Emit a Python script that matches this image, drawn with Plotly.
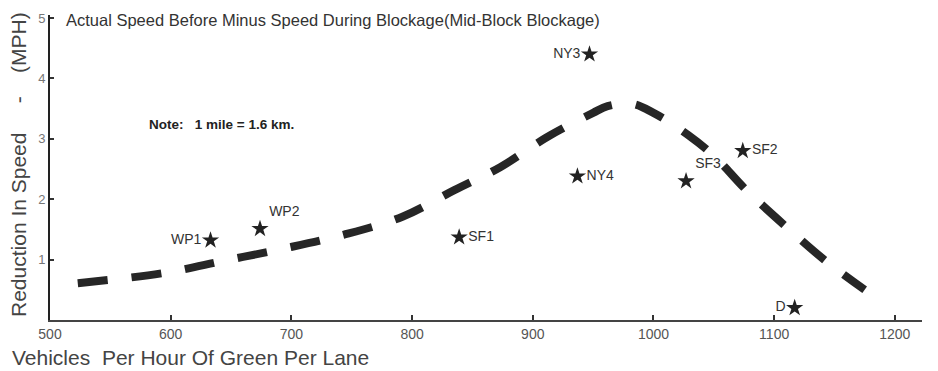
import plotly.graph_objects as go

# Site observations
site_names = ["WP1", "WP2", "SF1", "NY4", "NY3", "SF3", "SF2", "D"]
site_volume = [633, 674, 839, 937, 947, 1027, 1074, 1117]
site_reduction = [1.32, 1.51, 1.37, 2.38, 4.40, 2.30, 2.80, 0.20]
site_label_pos = ["middle left", "top right", "middle right", "middle right",
                  "middle left", "top right", "middle right", "middle left"]

# Fitted curve
curve_volume = [523, 595, 644, 693, 743, 792, 835, 873, 912, 950, 962, 982,
                1000, 1029, 1051, 1077, 1113, 1142, 1175]
curve_reduction = [0.61, 0.78, 0.98, 1.18, 1.41, 1.71, 2.15, 2.53, 3.03, 3.43,
                   3.54, 3.58, 3.43, 3.06, 2.70, 2.15, 1.49, 0.99, 0.50]

x_ticks = [500, 600, 700, 800, 900, 1000, 1100, 1200]
y_ticks = [1, 2, 3, 4, 5]

FONT = "Liberation Sans"
NB = "\u00a0"

fig = go.Figure()
fig.add_trace(go.Scatter(
    x=curve_volume, y=curve_reduction, mode="lines",
    line=dict(color="#262626", width=8, dash="30px,24px", shape="spline"),
    hoverinfo="skip", showlegend=False))
fig.add_trace(go.Scatter(
    x=site_volume, y=site_reduction, mode="markers+text",
    marker=dict(symbol="star", size=13, color="#222222"),
    text=site_names, textposition=site_label_pos,
    textfont=dict(family=FONT, size=14, color="#333333"),
    showlegend=False))

fig.update_layout(
    width=938, height=371,
    margin=dict(l=50, r=16, t=15, b=51),
    paper_bgcolor="white", plot_bgcolor="white",
    font=dict(family=FONT, color="#333333"),
    xaxis=dict(range=[500, 1222.5], tickvals=x_ticks, showgrid=False, zeroline=False,
               showline=True, linecolor="#444444", linewidth=2,
               ticks="inside", ticklen=5, tickwidth=2, tickcolor="#333333",
               tickfont=dict(family=FONT, size=14, color="#555555")),
    yaxis=dict(range=[0, 5.05], tickvals=y_ticks, showgrid=False, zeroline=False,
               showline=True, linecolor="#222222", linewidth=2,
               ticks="inside", ticklen=4, tickwidth=2, tickcolor="#333333",
               tickfont=dict(family=FONT, size=13, color="#777777")),
    annotations=[
        dict(text="Actual Speed Before Minus Speed During Blockage(Mid-Block Blockage)",
             xref="paper", yref="paper", x=(64 - 50) / 872, y=(320 - 20) / 305,
             xanchor="left", yanchor="middle", showarrow=False,
             font=dict(family=FONT, size=16.5, color="#333333")),
        dict(text=f"<b>Note:{NB}{NB} 1 mile{NB}={NB}1.6 km.</b>",
             xref="paper", yref="paper", x=(147 - 50) / 872, y=(320 - 124) / 305,
             xanchor="left", yanchor="middle", showarrow=False,
             font=dict(family=FONT, size=13.5, color="#222222")),
        dict(text=f"Vehicles{NB} Per Hour Of Green Per Lane",
             xref="paper", yref="paper", x=(10 - 50) / 872, y=(320 - 357) / 305,
             xanchor="left", yanchor="middle", showarrow=False,
             font=dict(family=FONT, size=21, color="#444444")),
        dict(text=f"Reduction In Speed{NB*4} -{NB*3} (MPH)",
             xref="paper", yref="paper", x=(18 - 50) / 872, y=(320 - 165) / 305,
             xanchor="center", yanchor="middle", showarrow=False, textangle=-90,
             font=dict(family=FONT, size=21, color="#444444")),
    ],
)

fig.write_html("out.html")
